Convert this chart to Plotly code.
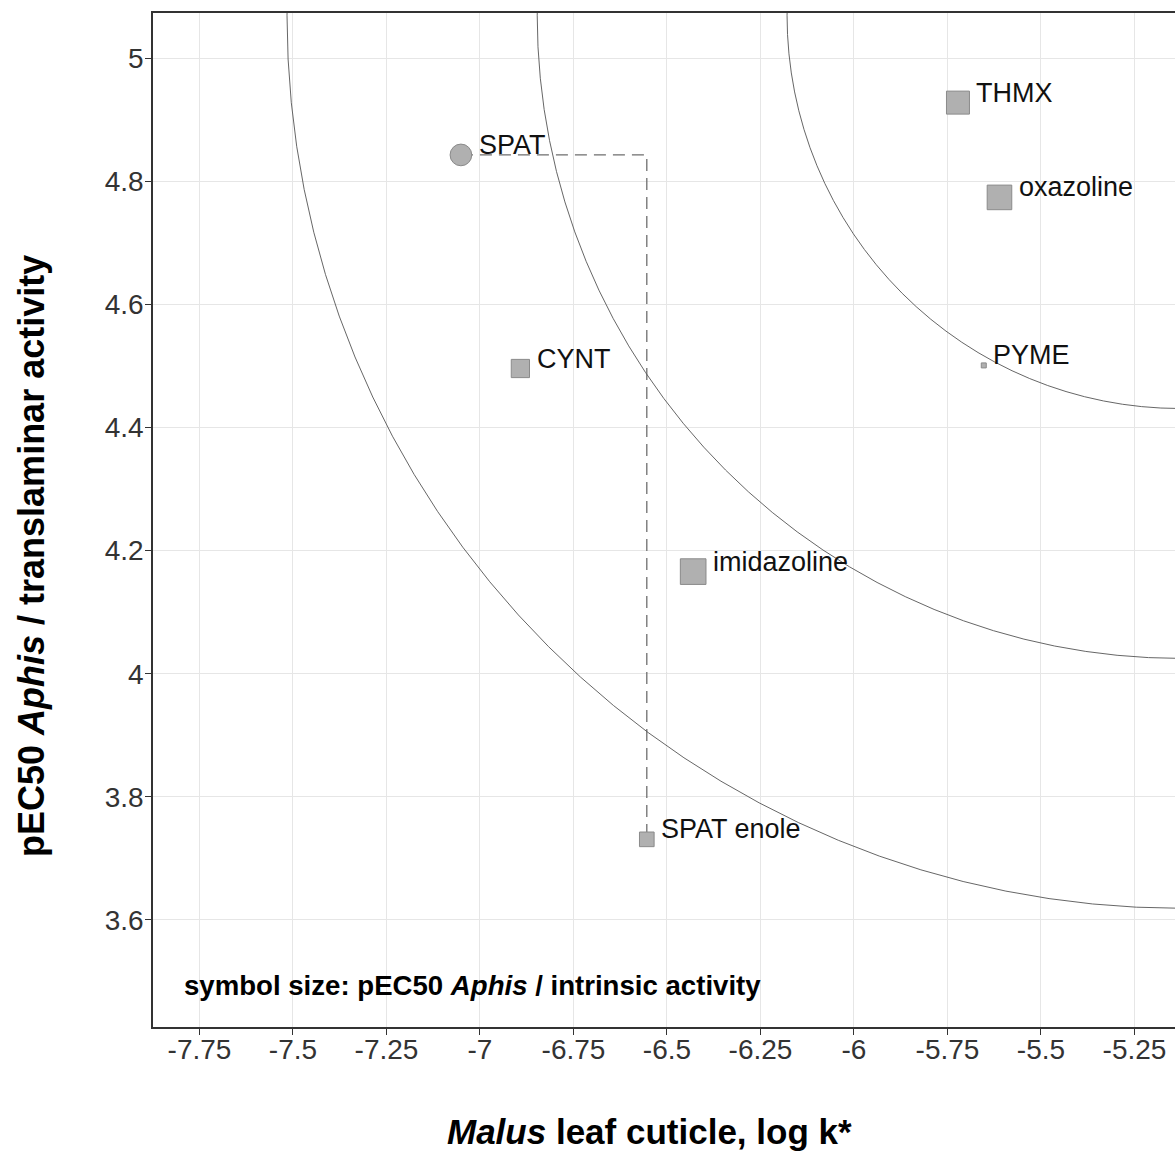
import plotly.graph_objects as go

# ---------------- data ----------------
compounds = ["THMX", "oxazoline", "SPAT", "CYNT", "PYME", "imidazoline", "SPAT enole"]
log_k_cuticle = [-5.722, -5.611, -7.051, -6.892, -5.653, -6.430, -6.554]
pec50_translaminar = [4.928, 4.774, 4.843, 4.496, 4.501, 4.166, 3.731]
pec50_intrinsic = [6.09, 6.28, 5.94, 5.54, 4.00, 6.40, 5.12]
compound_form = ["active", "active", "prodrug", "active", "active", "active", "active"]

x_tick_vals = [-7.75, -7.5, -7.25, -7.0, -6.75, -6.5, -6.25, -6.0, -5.75, -5.5, -5.25]
x_tick_text = ["-7.75", "-7.5", "-7.25", "-7", "-6.75", "-6.5", "-6.25", "-6", "-5.75", "-5.5", "-5.25"]
y_tick_vals = [3.6, 3.8, 4.0, 4.2, 4.4, 4.6, 4.8, 5.0]
y_tick_text = ["3.6", "3.8", "4", "4.2", "4.4", "4.6", "4.8", "5"]

# guide arcs (quarter circles around the upper-right corner)
arc_center_x = -5.128
arc_center_y = 5.070
arc_radius_x = [1.051, 1.719, 2.388]
arc_radius_y = [0.639, 1.045, 1.451]

X_RANGE = [-7.8743, -5.1417]
Y_RANGE = [3.4261, 5.0736]

FONT = "Liberation Sans, Arial, Helvetica, sans-serif"


def size_scale(v):
    return 5 + (v - 4.0) * 8.6


sizes = [size_scale(v) for v in pec50_intrinsic]
symbols = ["circle" if f == "prodrug" else "square" for f in compound_form]

fig = go.Figure()

# dashed connector prodrug -> enol
i_p = compounds.index("SPAT")
i_e = compounds.index("SPAT enole")
fig.add_trace(go.Scatter(
    x=[log_k_cuticle[i_p], log_k_cuticle[i_e], log_k_cuticle[i_e]],
    y=[pec50_translaminar[i_p], pec50_translaminar[i_p], pec50_translaminar[i_e]],
    mode="lines",
    line=dict(color="#6e6e6e", width=1.3, dash="12px,7px"),
    hoverinfo="skip",
    showlegend=False,
))

fig.add_trace(go.Scatter(
    x=log_k_cuticle,
    y=pec50_translaminar,
    mode="markers",
    marker=dict(size=sizes, symbol=symbols, color="#b0b0b0", opacity=1,
                line=dict(color="#8a8a8a", width=1)),
    text=compounds,
    hoverinfo="text",
    showlegend=False,
))

shapes = []
for rx, ry in zip(arc_radius_x, arc_radius_y):
    shapes.append(dict(
        type="circle", xref="x", yref="y",
        x0=arc_center_x - rx, x1=arc_center_x + rx,
        y0=arc_center_y - ry, y1=arc_center_y + ry,
        line=dict(color="#555555", width=0.9),
        layer="above",
    ))

annotations = []
for name, x, y, s in zip(compounds, log_k_cuticle, pec50_translaminar, sizes):
    annotations.append(dict(
        x=x, y=y, xref="x", yref="y", text=name, showarrow=False,
        xanchor="left", yanchor="middle", xshift=s / 2 + 5, yshift=10,
        font=dict(family=FONT, size=27, color="#111111"),
    ))

W, H = 1175, 1151
ML, MT, MB, MR = 153, 13, 124, 0
pw = W - ML - MR
ph = H - MT - MB


def px_to_paper_x(px):
    return (px - ML) / pw


def px_to_paper_y(py):
    return (H - MB - py) / ph


annotations.append(dict(
    x=px_to_paper_x(182), y=px_to_paper_y(985), xref="paper", yref="paper",
    text="<b>symbol size: pEC50 <i>Aphis</i> / intrinsic activity</b>",
    showarrow=False, xanchor="left", yanchor="middle",
    font=dict(family=FONT, size=27.6, color="#000000"),
))
annotations.append(dict(
    x=px_to_paper_x(649), y=px_to_paper_y(1131), xref="paper", yref="paper",
    text="<b><i>Malus</i> leaf cuticle, log k*</b>",
    showarrow=False, xanchor="center", yanchor="middle",
    font=dict(family=FONT, size=35, color="#000000"),
))
annotations.append(dict(
    x=px_to_paper_x(31), y=px_to_paper_y(556), xref="paper", yref="paper",
    text="<b>pEC50 <i>Aphis</i> / translaminar activity</b>",
    showarrow=False, xanchor="center", yanchor="middle", textangle=-90,
    font=dict(family=FONT, size=36, color="#000000"),
))

fig.update_layout(
    width=W, height=H,
    margin=dict(l=ML, r=MR, t=MT, b=MB, pad=0),
    paper_bgcolor="white", plot_bgcolor="white",
    shapes=shapes, annotations=annotations,
    font=dict(family=FONT),
    showlegend=False,
)

fig.update_xaxes(
    range=X_RANGE, tickvals=x_tick_vals, ticktext=x_tick_text,
    showgrid=True, gridcolor="#e6e6e6", gridwidth=1,
    showline=True, linecolor="#333333", linewidth=1.5, mirror=True,
    ticks="outside", ticklen=6, tickcolor="#333333", tickwidth=1,
    tickfont=dict(family=FONT, size=28, color="#333333"),
    ticklabelstandoff=-9,
    zeroline=False,
)
fig.update_yaxes(
    range=Y_RANGE, tickvals=y_tick_vals, ticktext=y_tick_text,
    showgrid=True, gridcolor="#e6e6e6", gridwidth=1,
    showline=True, linecolor="#333333", linewidth=1.5, mirror=False,
    ticks="outside", ticklen=6, tickcolor="#333333", tickwidth=1,
    tickfont=dict(family=FONT, size=28, color="#333333"),
    ticklabelstandoff=-4,
    zeroline=False,
)

fig.write_html(
    "out.html",
    config={"displayModeBar": False},
    post_script="document.body.style.margin='0px';document.body.style.overflow='hidden';",
)
